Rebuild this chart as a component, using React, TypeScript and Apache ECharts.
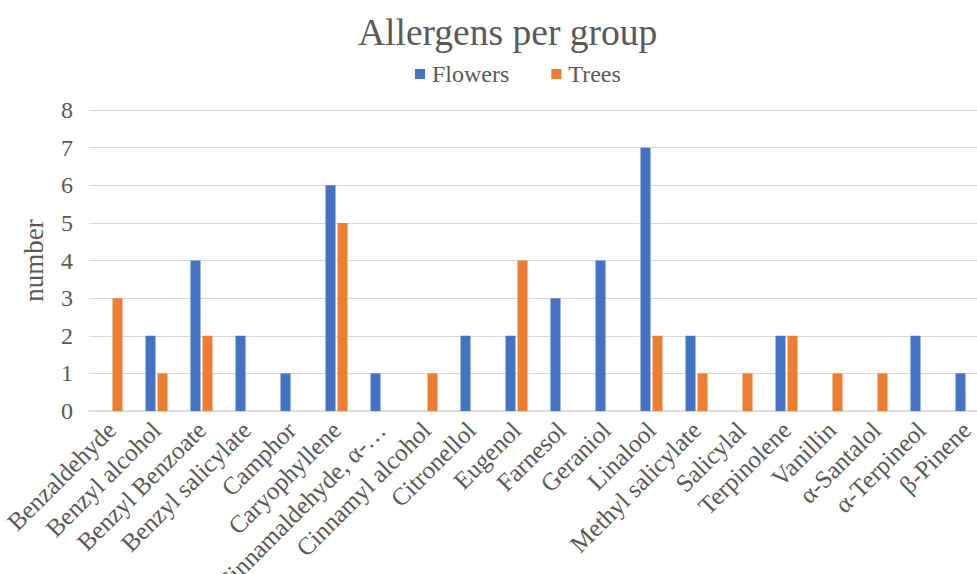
import React, { useEffect, useRef } from "react";
import * as echarts from "echarts";

const categories = [
  "Benzaldehyde", "Benzyl alcohol", "Benzyl Benzoate", "Benzyl salicylate", "Camphor",
  "Caryophyllene", "Cinnamaldehyde, α-…", "Cinnamyl alcohol", "Citronellol", "Eugenol",
  "Farnesol", "Geraniol", "Linalool", "Methyl salicylate", "Salicylal",
  "Terpinolene", "Vanillin", "α-Santalol", "α-Terpineol", "β-Pinene",
];
const flowers = [0, 2, 4, 2, 1, 6, 1, 0, 2, 2, 3, 4, 7, 2, 0, 2, 0, 0, 2, 1];
const trees = [3, 1, 2, 0, 0, 5, 0, 1, 0, 4, 0, 0, 2, 1, 1, 2, 1, 1, 0, 0];

const FONT = "Liberation Serif";

export default function App() {
  const ref = useRef<HTMLDivElement>(null);
  useEffect(() => {
    const chart = echarts.init(ref.current!, null, { renderer: "svg" });
    chart.setOption({
      animation: false,
      textStyle: { fontFamily: FONT },
      title: {
        text: "Allergens per group",
        left: 353,
        top: 8,
        textStyle: { fontFamily: FONT, fontSize: 37.5, fontWeight: "normal", color: "#595959" },
      },
      legend: {
        data: ["Flowers", "Trees"],
        top: 57,
        left: 410,
        itemWidth: 10,
        itemHeight: 10,
        itemGap: 42,
        icon: "rect",
        textStyle: { fontFamily: FONT, fontSize: 24, color: "#595959", padding: [0, 0, 0, 2] },
      },
      grid: {
        left: 89, right: -12, top: 110, bottom: 163,
        containLabel: false, outerBoundsMode: "none",
      },
      xAxis: {
        type: "category",
        data: categories,
        axisLine: { lineStyle: { color: "#d9d9d9", width: 1.5 } },
        axisTick: { show: false },
        axisLabel: {
          rotate: 45,
          interval: 0,
          fontFamily: FONT,
          fontSize: 25,
          color: "#595959",
          margin: 15,
        },
      },
      yAxis: {
        type: "value",
        min: 0,
        max: 8,
        interval: 1,
        name: "number",
        nameLocation: "middle",
        nameGap: 42,
        nameTextStyle: { fontFamily: FONT, fontSize: 27, color: "#595959" },
        axisLine: { show: false },
        axisTick: { show: false },
        axisLabel: { fontFamily: FONT, fontSize: 24, color: "#595959", margin: 16 },
        splitLine: { lineStyle: { color: "#d9d9d9", width: 1 } },
      },
      series: [
        {
          name: "Flowers",
          type: "bar",
          data: flowers,
          barWidth: 10,
          barGap: "20%",
          itemStyle: { color: "#4472C4" },
        },
        {
          name: "Trees",
          type: "bar",
          data: trees,
          barWidth: 10,
          itemStyle: { color: "#ED7D31" },
        },
      ],
    });
    return () => chart.dispose();
  }, []);
  return <div ref={ref} style={{ width: 977, height: 574, position: "absolute", left: 0, top: 0 }} />;
}
